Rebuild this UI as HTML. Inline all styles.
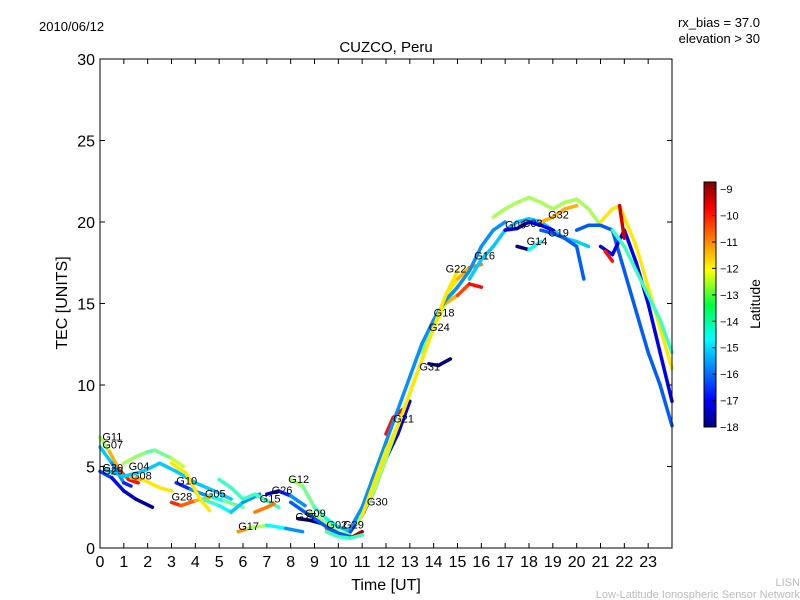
<!DOCTYPE html>
<html><head><meta charset="utf-8"><style>
body{margin:0;background:#fff;}
svg{display:block;font-family:"Liberation Sans","DejaVu Sans",sans-serif;}
</style></head><body>
<svg id="chart" width="800" height="600">
<defs><linearGradient id="jet" x1="0" y1="1" x2="0" y2="0">
<stop offset="0" stop-color="#00007f"/><stop offset="0.11" stop-color="#0000ff"/><stop offset="0.36" stop-color="#00ffff"/><stop offset="0.5" stop-color="#00ff40"/><stop offset="0.64" stop-color="#ffff00"/><stop offset="0.89" stop-color="#ff0000"/><stop offset="1" stop-color="#7f0000"/></linearGradient></defs>
<text x="39" y="31" font-size="13">2010/06/12</text>
<text x="760" y="27" font-size="13" text-anchor="end">rx_bias = 37.0</text>
<text x="760" y="43" font-size="13" text-anchor="end">elevation &gt; 30</text>
<text x="386" y="52" font-size="15" text-anchor="middle">CUZCO, Peru</text>
<g id="marks"></g>
<rect x="100" y="59" width="572" height="489" fill="none" stroke="#000" stroke-width="1"/>
<g id="axes"></g>
<text x="386" y="590" font-size="16" text-anchor="middle">Time [UT]</text>
<text transform="translate(67,303) rotate(-90)" font-size="16" text-anchor="middle">TEC [UNITS]</text>
<rect x="704" y="182" width="12" height="245" fill="url(#jet)" stroke="#000"/>
<g id="cbticks"></g>
<text transform="translate(760,304) rotate(-90)" font-size="14" text-anchor="middle">Latitude</text>
<text x="800" y="586" font-size="11" fill="#bbb" text-anchor="end">LISN</text>
<text x="800" y="598" font-size="11" fill="#bbb" text-anchor="end">Low-Latitude Ionospheric Sensor Network</text>
</svg>
<script>
const xTicks=[0,1,2,3,4,5,6,7,8,9,10,11,12,13,14,15,16,17,18,19,20,21,22,23];
const yTicks=[0,5,10,15,20,25,30];
const cbTicks=[-9,-10,-11,-12,-13,-14,-15,-16,-17,-18];
const trackTimes=[
[0,0.4,0.8,1.2,1.6],[0,0.5,1,1.3],[0,0.5,1,1.5,2.2],[1,1.5,2,2.3,3,3.5],[1.3,1.8,2.5,3],
[0.2,1,1.8,2.5,3.2,4,4.8,5.5],[3.2,3.8,4.5,5.2,6],[3,3.4,4,4.6],[4.3,5,5.5,6,6.7],[3,3.6,4.2,4.6],
[5,5.5,6,6.5,7,7.5],[5.8,6.2,7,7.8,8.5],[6.5,7,7.3],[7,7.5,8,8.6],[8,8.5,9,9.5,10,10.5],
[8.3,8.8,9.3],[8.8,9.5,10,10.5],[9.5,10,10.5,11],[10.5,11,11.5,12,12.5,13],[10.8,11.5,12,12.5,13,13.5,14,14.5,15],
[12,12.3,12.7],[13.8,14.2,14.7],[13.5,14,14.5,15,15.5,16],[14.5,15,15.5,16],[15.5,16,16.5,17,17.5,18,18.5,19,19.5,20,20.5],
[16.5,17,17.5,18,18.5,19,19.5,20,20.5,21],[17,17.5,18,18.5,19],[17.5,18,18.5],[18.5,19,19.5,20],[18.5,19,19.5,20,20.3],
[20,20.5,21,21.5,22,22.5,23,23.5,24],[21,21.5,22,22.5,23,23.5,24],[21,21.5,21.8,22.5,23,23.5,24],[21.5,22,22.5,23,23.5,24],[21.2,21.5],[21.8,22],
[10.5,11,11.5,12,12.5,13,13.5,14,14.5,15,15.5,16,16.5,17],[11,11.5,12,12.5,13,13.5,14,14.5,15],[8,8.5,9,9.5,10,10.5],[9.5,10,10.5,11]];
const trackTec=[
[6.8,5.9,4.8,4.2,4.0],[6.2,5.2,4.0,3.8],[4.7,4.3,3.5,3.0,2.5],[5.2,5.6,5.9,6.0,5.5,5.0],[4.3,4.2,3.7,3.5],
[4.8,4.4,4.7,5.2,4.7,4.0,3.5,3.0],[4.0,3.6,3.2,2.9,2.5],[2.8,2.6,2.9,3.1],[3.0,2.6,2.2,2.8,3.3],[5.2,4.6,3.0,2.3],
[4.2,3.7,3.0,3.3,2.9,2.5],[1.0,1.2,1.4,1.2,1.0],[2.2,2.5,2.7],[3.3,3.5,3.2,2.6],[4.2,3.8,2.5,1.8,1.3,1.0],
[1.8,1.7,1.5],[2.2,1.5,1.0,0.8],[1.2,0.8,0.6,1.0],[1.0,2.0,3.5,5.5,7.0,9.0],[1.5,3.5,5.5,7.5,9.5,11.5,13.5,15,16],
[7.0,8.0,8.5],[11.3,11.2,11.6],[12,13.5,15,15.5,16.2,16.0],[15.5,16.5,17.2,17.4],[16.5,17.7,18.5,19.5,20,20.2,20,19.5,19,18.8,18.5],
[20.3,20.8,21.2,21.5,21.2,20.8,21.2,21.4,20.8,19.8],[19.5,19.6,20.0,19.8,19.5],[18.5,18.3,18.8],[20,20.3,20.8,21],[19.5,19.3,19.0,18.5,16.5],
[19.5,19.8,19.8,19.5,17,14.5,12,10,7.5],[18.5,18,19.5,17.5,15,12,9],[20,20.8,21,18.5,16,13.5,11],[19.5,18.5,17,15.5,14,12],[18.2,17.6],[21,19],
[1.2,2.5,4.5,6.5,8.5,10.5,12.5,14,15.2,16,17,18.5,19.5,20],[2,4,6,7.5,9.5,11.5,13.5,15.5,17],[2.8,2.3,1.8,1.3,0.9,0.7],[1.0,0.7,0.6,0.8]];
const trackLat=[
[-14,-12,-11,-10,-10],[-15,-15,-16,-17],[-16,-16.5,-17,-17.5,-18],[-13,-13,-13.5,-14,-13,-12.5],[-11,-12,-12,-12],
[-15,-15,-15,-15,-15,-15,-15,-15],[-17,-16,-15,-14,-13],[-10,-10.5,-11,-12],[-14,-14,-15,-15,-16],[-12,-12,-12,-12],
[-14,-14,-14,-14,-14,-14],[-10.5,-12,-14,-15,-16],[-11,-11,-11],[-18,-17,-16,-15],[-13,-13,-14,-14,-15,-15],
[-18,-18,-18],[-13,-13,-13,-13],[-11,-10,-9,-9],[-16,-16.5,-17,-17,-17,-17],[-13,-13,-13,-13,-13,-13,-13,-13,-13],
[-10,-10,-10],[-18,-18,-18],[-14,-13,-12,-11,-10,-10],[-12,-12,-11,-11],[-15,-15,-15,-15,-15,-15,-15,-15,-15,-15,-15],
[-13,-13,-13,-13,-13,-13,-13,-13,-13,-13],[-17,-17,-17,-17,-17],[-18,-18,-11],[-11.5,-11.5,-11.5,-11.5],[-16,-16,-16,-16,-16],
[-16,-16,-16,-16,-16,-16,-16,-16,-16],[-17,-17,-17,-17,-17,-17,-17],[-12,-12,-12,-12,-12,-12,-12],[-14,-14,-14,-14,-14,-14],[-10,-10],[-9.5,-9.5],
[-15.5,-15.5,-15.5,-15.5,-15.5,-15.5,-15.5,-15.5,-15.5,-15.5,-15.5,-15.5,-15.5,-15.5],[-12,-12,-12,-12,-12,-12,-12,-12,-12],[-16,-16,-16,-16,-16,-16],[-14,-14,-14,-14]];
const prnNames=["G11","G07","G20","G29","G04","G08","G10","G28","G05","G17","G15","G26","G12","G27","G09","G02","G29","G30","G21","G31","G24","G18","G22","G16","G06","G03","G14","G32","G19"];
const prnT=[0.1,0.1,0.1,0.1,1.2,1.3,3.2,3.0,4.4,5.8,6.7,7.2,7.9,8.2,8.6,9.5,10.2,11.2,12.3,13.4,13.8,14.0,14.5,15.7,17.0,17.7,17.9,18.8,18.8];
const prnV=[6.6,6.1,4.7,4.5,4.8,4.2,3.9,2.9,3.1,1.1,2.8,3.3,4.0,1.7,1.9,1.2,1.2,2.6,7.7,10.9,13.3,14.2,16.9,17.7,19.6,19.7,18.6,20.2,19.1];
const X=t=>100+t*572/24, Y=v=>548-v*489/30;
const latY=l=>427-(l+18)*(245/9.27);
function jet(l){let f=(l+18)/9.27;f=Math.max(0,Math.min(1,f));
 const r=Math.max(0,Math.min(1,1.5-Math.abs(4*f-3))),g=Math.max(0,Math.min(1,1.5-Math.abs(4*f-2))),b=Math.max(0,Math.min(1,1.5-Math.abs(4*f-1)));
 return `rgb(${r*255|0},${g*255|0},${b*255|0})`;}
const NS="http://www.w3.org/2000/svg";
function mk(tag,at,parent){const e=document.createElementNS(NS,tag);for(const k in at)e.setAttribute(k,at[k]);parent.appendChild(e);return e;}
const marks=document.getElementById('marks'),axes=document.getElementById('axes'),cb=document.getElementById('cbticks');
trackTimes.forEach((ts,i)=>{
 const g=mk('g',{},marks);
 
 
 for(let j=0;j<ts.length-1;j++){
  const l=mk('line',{x1:X(ts[j]),y1:Y(trackTec[i][j]),x2:X(ts[j+1]),y2:Y(trackTec[i][j+1]),stroke:jet((trackLat[i][j]+trackLat[i][j+1])/2),'stroke-width':3.5,'stroke-linecap':'round'},g);
  
  
 }
});
prnNames.forEach((n,i)=>{
 const t=mk('text',{x:X(prnT[i]),y:Y(prnV[i]),'font-size':11},marks);t.textContent=n;
 
 
});
xTicks.forEach(v=>{
 mk('line',{x1:X(v),y1:548,x2:X(v),y2:543,stroke:'#000'},axes);
 mk('line',{x1:X(v),y1:59,x2:X(v),y2:64,stroke:'#000'},axes);
 const t=mk('text',{x:X(v),y:567,'font-size':16,'text-anchor':'middle'},axes);t.textContent=v;
 
 
});
yTicks.forEach(v=>{
 mk('line',{x1:100,y1:Y(v),x2:105,y2:Y(v),stroke:'#000'},axes);
 mk('line',{x1:672,y1:Y(v),x2:667,y2:Y(v),stroke:'#000'},axes);
 const t=mk('text',{x:95,y:Y(v)+6,'font-size':16,'text-anchor':'end'},axes);t.textContent=v;
 
 
});
cbTicks.forEach(v=>{
 mk('line',{x1:712,y1:latY(v),x2:716,y2:latY(v),stroke:'#000'},cb);
 const t=mk('text',{x:720,y:latY(v)+4,'font-size':11},cb);t.textContent='\u2212'+(-v);
 
 
});
</script>
</body></html>
